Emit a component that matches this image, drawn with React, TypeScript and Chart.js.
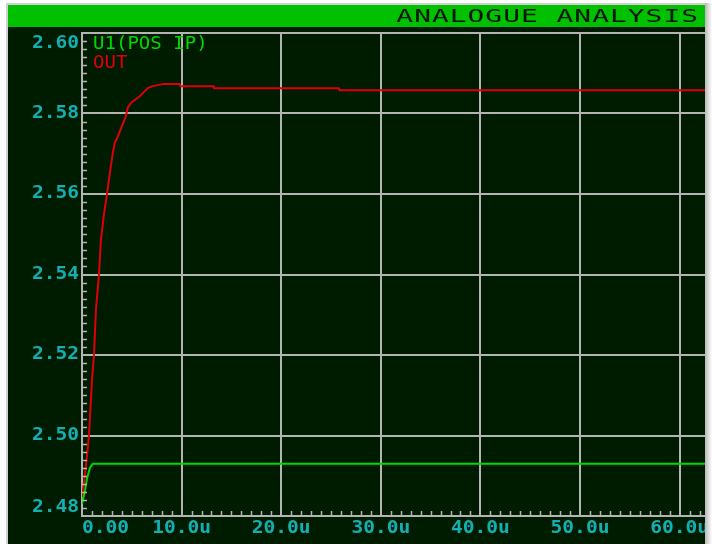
import React, { useEffect, useRef } from 'react';
import { Chart, registerables } from 'chart.js';

Chart.register(...registerables);

// ---- data ----
const TITLE = 'ANALOGUE ANALYSIS';
const SERIES_NAMES = ['U1(POS IP)', 'OUT'];
const Y_TICK_VALUES = [2.48, 2.5, 2.52, 2.54, 2.56, 2.58, 2.6];
const Y_TICK_LABELS = ['2.48', '2.50', '2.52', '2.54', '2.56', '2.58', '2.60'];
const X_TICK_VALUES = [0, 10, 20, 30, 40, 50, 60];
const X_TICK_LABELS = ['0.00', '10.0u', '20.0u', '30.0u', '40.0u', '50.0u', '60.0u'];
const X_MIN = 0;
const X_MAX = 62.55;
const Y_MIN = 2.48;
const Y_MAX = 2.6;

const inTimes = [0, 0.3, 0.5, 0.8, 1.1, 62.55];
const inValues = [2.483, 2.4863, 2.4893, 2.492, 2.493, 2.493];

const outTimes = [
  0, 0.3, 0.5, 0.7, 1.0, 1.2, 1.4, 1.7, 1.9, 2.2, 2.5, 2.8, 3.1, 3.3, 3.6, 4.0, 4.4, 4.6, 5.0, 5.8,
  6.6, 7.1, 8.1, 9.8, 9.85, 13.2, 13.25, 25.8, 25.85, 62.55,
];
const outValues = [
  2.4846, 2.4903, 2.495, 2.5, 2.5137, 2.5199, 2.5312, 2.5399, 2.5486, 2.5549, 2.5598, 2.5653,
  2.5703, 2.5728, 2.5743, 2.5768, 2.5793, 2.5815, 2.5828, 2.5843, 2.5863, 2.5868, 2.5873, 2.5873,
  2.5868, 2.5868, 2.5863, 2.5863, 2.5858, 2.5858,
];

// ---- styles ----
const BG = '#001c00';
const BAR = '#00c000';
const GRID = '#b4b4b4';
const LABEL = '#12b0b4';
const RED = '#e00000';
const GREEN = '#00d800';
const FONT = '"DejaVu Sans Mono", monospace';

function drawText(
  ctx: CanvasRenderingContext2D,
  text: string,
  x: number,
  y: number,
  size: number,
  sx: number,
  spacing: number,
  align: 'left' | 'right' | 'center',
  color: string,
  bold: boolean
) {
  ctx.save();
  ctx.font = `${bold ? 'bold ' : ''}${size}px ${FONT}`;
  (ctx as any).letterSpacing = '0px';
  const base = ctx.measureText(text).width;
  const w = (base + spacing * (text.length - 1)) * sx;
  const left = align === 'left' ? x : align === 'right' ? x - w : x - w / 2;
  (ctx as any).letterSpacing = `${spacing}px`;
  ctx.translate(left, y);
  ctx.scale(sx, 1);
  ctx.textAlign = 'left';
  ctx.textBaseline = 'middle';
  ctx.fillStyle = color;
  ctx.fillText(text, 0, 0);
  ctx.restore();
}

function edge(ctx: CanvasRenderingContext2D, H: number) {
  const grad = ctx.createLinearGradient(705, 0, 712, 0);
  grad.addColorStop(0, '#b8b8b8');
  grad.addColorStop(1, '#ffffff');
  ctx.fillStyle = grad;
  ctx.fillRect(705, 3, 7, H);
}

const framePlugin = {
  id: 'frame',
  beforeDraw(chart: any) {
    const ctx: CanvasRenderingContext2D = chart.ctx;
    const W = chart.width;
    const H = chart.height;
    ctx.save();
    ctx.fillStyle = '#ffffff';
    ctx.fillRect(0, 0, W, H);
    ctx.fillStyle = '#d0d0d0';
    ctx.fillRect(6, 3, 2, H);
    ctx.fillRect(6, 3, 701, 2);
    edge(ctx, H);
    ctx.fillStyle = BG;
    ctx.fillRect(8, 5, 697, H - 5);
    ctx.fillStyle = BAR;
    ctx.fillRect(8, 5, 697, 22);
    ctx.restore();
  },
  afterDraw(chart: any) {
    const ctx: CanvasRenderingContext2D = chart.ctx;
    const xs = chart.scales.x;
    const ys = chart.scales.y;
    const area = chart.chartArea;
    ctx.save();
    ctx.strokeStyle = GRID;
    ctx.lineWidth = 1.5;
    ctx.beginPath();
    for (let i = 0; i <= 60; i++) {
      if (i % 10 === 0) continue;
      const v = Y_MIN + i * 0.002;
      const py = Math.round(ys.getPixelForValue(v)) + 0.5;
      ctx.moveTo(area.left, py);
      ctx.lineTo(area.left + 5, py);
    }
    for (let i = 1; i <= 62; i++) {
      if (i % 10 === 0) continue;
      const px = Math.round(xs.getPixelForValue(i)) + 0.5;
      ctx.moveTo(px, area.bottom);
      ctx.lineTo(px, area.bottom - 5);
    }
    ctx.stroke();
    ctx.restore();

    Y_TICK_VALUES.forEach((v, i) => {
      let py = ys.getPixelForValue(v);
      py = Math.max(area.top + 11, Math.min(area.bottom - 8, py));
      drawText(ctx, Y_TICK_LABELS[i], 79, py, 17, 1.15, 0, 'right', LABEL, true);
    });
    X_TICK_VALUES.forEach((v, i) => {
      const px = xs.getPixelForValue(v);
      drawText(ctx, X_TICK_LABELS[i], px, 529, 17, 1.15, 0, i === 0 ? 'left' : 'center', LABEL, true);
    });
    ctx.save();
    edge(ctx, chart.height);
    ctx.restore();

    drawText(ctx, SERIES_NAMES[0], area.left + 11, 45, 17, 1.12, 0, 'left', GREEN, false);
    drawText(ctx, SERIES_NAMES[1], area.left + 11, 64, 17, 1.12, 0, 'left', RED, false);
    drawText(ctx, TITLE, 698, 17.5, 18, 1.55, 0.65, 'right', '#001400', false);
  },
};

export default function App() {
  const ref = useRef<HTMLCanvasElement | null>(null);
  useEffect(() => {
    if (!ref.current) return;
    const chart = new Chart(ref.current, {
      type: 'line',
      data: {
        datasets: [
          {
            label: SERIES_NAMES[0],
            data: inTimes.map((t, i) => ({ x: t, y: inValues[i] })),
            borderColor: GREEN,
            borderWidth: 2,
            borderJoinStyle: 'round',
            pointRadius: 0,
            tension: 0,
            fill: false,
          },
          {
            label: SERIES_NAMES[1],
            data: outTimes.map((t, i) => ({ x: t, y: outValues[i] })),
            borderColor: RED,
            borderWidth: 2,
            borderJoinStyle: 'round',
            pointRadius: 0,
            tension: 0,
            fill: false,
          },
        ],
      },
      options: {
        animation: false,
        responsive: false,
        devicePixelRatio: 1,
        layout: { padding: { left: 82, right: 7, top: 33, bottom: 28 } },
        plugins: { legend: { display: false }, tooltip: { enabled: false }, title: { display: false } },
        scales: {
          x: {
            type: 'linear',
            min: X_MIN,
            max: X_MAX,
            ticks: { display: false, stepSize: 10, includeBounds: false },
            grid: { color: GRID, lineWidth: 2, drawTicks: false },
            border: { display: true, color: GRID, width: 2 },
          },
          y: {
            type: 'linear',
            min: Y_MIN,
            max: Y_MAX,
            ticks: { display: false, stepSize: 0.02, includeBounds: false },
            grid: { color: GRID, lineWidth: 2, drawTicks: false },
            border: { display: true, color: GRID, width: 2 },
          },
        },
      },
      plugins: [framePlugin],
    } as any);
    return () => chart.destroy();
  }, []);
  return (
    <div style={{ position: 'absolute', left: 0, top: 0, width: 712, height: 544 }}>
      <canvas ref={ref} width={712} height={544} style={{ display: 'block' }} />
    </div>
  );
}
